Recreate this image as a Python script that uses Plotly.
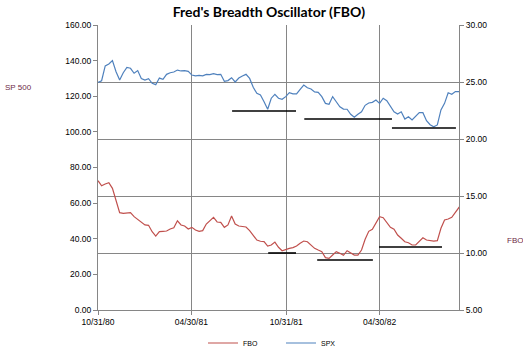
import pandas as pd
import plotly.graph_objects as go

# ---- data ----
start_date = "1980-10-31"
n_weeks = 102
dates = pd.date_range(start_date, periods=n_weeks, freq="7D")

spx = [127.8, 128.7, 137.0, 138.1, 140.0, 133.8, 129.1, 133.2, 136.2, 135.7, 132.9, 134.4, 130.0,
       129.1, 129.9, 127.3, 126.5, 130.2, 129.5, 132.3, 133.2, 133.6, 134.7, 134.2, 134.4, 134.0,
       131.9, 131.5, 131.7, 131.5, 132.3, 132.1, 132.7, 132.1, 132.3, 128.4, 128.8, 130.4, 128.0,
       130.2, 131.4, 132.3, 130.0, 125.0, 121.6, 120.7, 116.9, 112.7, 118.9, 121.1, 118.9,
       118.3, 119.8, 122.0, 121.3, 121.3, 123.9, 126.3, 124.8, 124.1, 122.4, 122.2, 119.8, 116.0,
       115.5, 119.8, 116.9, 114.1, 112.8, 112.7, 109.9, 108.2, 109.9, 111.3, 114.9, 116.2, 116.6,
       117.9, 116.0,
       118.9, 117.5, 114.1, 111.3, 110.0, 111.3, 107.2, 108.5, 106.7, 108.5, 110.8, 110.8, 106.3,
       104.0, 102.9, 103.9, 112.3, 116.0, 122.0, 121.1, 122.6, 122.6, 121.6]

fbo = [16.34, 15.9, 16.05, 16.17, 15.67, 14.65, 13.54, 13.48, 13.54, 13.54, 13.19, 12.95, 12.69,
       12.46, 12.43, 11.87, 11.49, 11.87, 11.9, 11.93, 12.1, 12.22, 12.83, 12.46, 12.37, 12.1,
       12.25, 12.02, 11.9, 11.96, 12.54, 12.83, 13.13, 12.72, 12.69, 12.25, 12.46, 13.25, 12.54,
       12.37, 12.31, 12.28, 11.96, 11.58, 11.14, 11.03, 11.0, 10.61, 10.7, 10.96, 10.5,
       10.2, 10.32, 10.41, 10.47, 10.61, 10.85, 11.05, 10.99, 10.7, 10.41, 10.26, 10.12, 9.59,
       9.53, 9.82, 10.12, 9.97, 9.8, 10.2, 9.97, 9.82, 9.82, 10.26, 11.2, 11.9, 12.08, 12.6, 13.19,
       13.1, 12.66, 12.25, 12.08, 11.58, 11.29, 10.99, 10.9, 10.7, 10.7, 10.99, 11.34, 11.14,
       11.1, 11.05, 11.08, 12.17, 12.9, 12.98, 13.13, 13.62, 14.0, 13.77]

x_tickvals = ["1980-10-31", "1981-04-30", "1981-10-31", "1982-04-30"]
x_ticktext = ["10/31/80", "04/30/81", "10/31/81", "04/30/82"]
x_end = "1982-10-01"

# support lines (drawn by hand on the original chart)
spx_sup_x0 = ["1981-07-18", "1981-12-05", "1982-05-24"]
spx_sup_x1 = ["1981-11-19", "1982-05-24", "1982-09-25"]
spx_sup_y = [111.7, 107.2, 102.2]
fbo_sup_x0 = ["1981-09-26", "1981-12-30", "1982-04-29"]
fbo_sup_x1 = ["1981-11-19", "1982-04-17", "1982-08-29"]
fbo_sup_y = [10.0, 9.39, 10.53]

title_text = "Fred's Breadth Oscillator (FBO)"

# ---- figure ----
BLUE = "#4F81BD"
RED = "#C0504D"
GRID = "#868686"
FONT = "Liberation Sans"

fig = go.Figure()
fig.add_trace(go.Scatter(x=dates, y=fbo, name="FBO", mode="lines",
                         line=dict(color=RED, width=1.2), yaxis="y2"))
fig.add_trace(go.Scatter(x=dates, y=spx, name="SPX", mode="lines",
                         line=dict(color=BLUE, width=1.2), yaxis="y"))

shapes = []
for a, b, v in zip(spx_sup_x0, spx_sup_x1, spx_sup_y):
    shapes.append(dict(type="line", xref="x", yref="y", x0=a, x1=b, y0=v, y1=v,
                       line=dict(color="black", width=1.6)))
for a, b, v in zip(fbo_sup_x0, fbo_sup_x1, fbo_sup_y):
    shapes.append(dict(type="line", xref="x", yref="y2", x0=a, x1=b, y0=v, y1=v,
                       line=dict(color="black", width=1.6)))

fig.update_layout(
    width=523, height=351,
    margin=dict(l=98, r=64, t=25, b=41, autoexpand=False),
    paper_bgcolor="white", plot_bgcolor="white",
    font=dict(family=FONT, size=8.5, color="#000000"),
    title=dict(text="<b>" + title_text + "</b>", x=0.514, xanchor="center",
               y=1 - 12 / 351, yanchor="middle",
               font=dict(family="Lato", size=14, color="#000000")),
    showlegend=True,
    legend=dict(orientation="h", x=(203 - 98) / 361, xanchor="left",
                y=(310 - 343) / 285, yanchor="middle",
                font=dict(size=7, family=FONT, color="#000000"),
                entrywidth=33, entrywidthmode="pixels",
                bgcolor="rgba(0,0,0,0)", itemwidth=30),
    xaxis=dict(type="date", range=[start_date, x_end],
               tickvals=x_tickvals, ticktext=x_ticktext,
               showgrid=True, gridcolor=GRID, gridwidth=1,
               showline=True, linecolor=GRID, linewidth=1,
               ticks="outside", ticklen=4, tickcolor=GRID,
               zeroline=False),
    yaxis=dict(range=[0, 160], dtick=20, tick0=0, tickformat=".2f",
               showgrid=False, showline=True, linecolor=GRID, linewidth=1,
               ticks="outside", ticklen=4, tickcolor=GRID, zeroline=False),
    yaxis2=dict(range=[5, 30], dtick=5, tick0=5, tickformat=".2f",
                overlaying="y", side="right",
                showgrid=True, gridcolor=GRID, gridwidth=1,
                showline=True, linecolor=GRID, linewidth=1,
                ticks="outside", ticklen=4, tickcolor=GRID, zeroline=False),
    shapes=shapes,
    annotations=[
        dict(text="SP 500", xref="paper", yref="paper", x=(3 - 98) / 361, y=(310 - 87) / 285,
             xanchor="left", yanchor="middle", showarrow=False,
             font=dict(size=8, family=FONT, color="#6E2B46")),
        dict(text="FBO", xref="paper", yref="paper", x=(505 - 98) / 361, y=(310 - 240) / 285,
             xanchor="left", yanchor="middle", showarrow=False,
             font=dict(size=8, family=FONT, color="#6E2B46")),
    ],
)

fig.write_html("out.html")
